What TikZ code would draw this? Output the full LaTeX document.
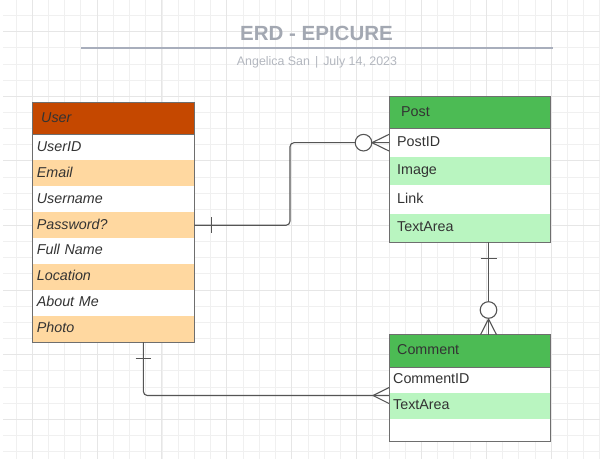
\documentclass[tikz,border=0pt]{standalone}
\usepackage{fontspec}
\setmainfont{Liberation Sans}
\definecolor{titlecol}{HTML}{A3A8B2}
\definecolor{subcol}{HTML}{B3B7BF}
\definecolor{rulecol}{HTML}{A8AEBC}
\definecolor{userhead}{HTML}{C54800}
\definecolor{orangerow}{HTML}{FFD8A0}
\definecolor{greenhead}{HTML}{4CBB54}
\definecolor{greenrow}{HTML}{B9F5C0}
\definecolor{txt}{HTML}{333333}
\definecolor{boxline}{HTML}{6E6E6E}
\definecolor{conncol}{HTML}{555555}
\definecolor{gridminor}{HTML}{F0F0F0}
\definecolor{gridmajor}{HTML}{E6E6E6}
\newcommand{\cellfont}{\fontsize{14.3}{16}\selectfont}
\tikzset{
  cell/.style={rectangle, anchor=north west, inner ysep=0pt, align=left,
    text height=10.5pt, text depth=3pt, font=\cellfont, text=txt},
  ucell/.style={cell, minimum width=161.7pt, text width=153pt, inner xsep=4.35pt,
    minimum height=25.93pt, font=\cellfont\itshape},
  uhead/.style={cell, minimum width=161.7pt, text width=144.3pt, inner xsep=8.7pt,
    minimum height=32pt, font=\cellfont\itshape, fill=userhead},
  pcell/.style={cell, minimum width=161.3pt, text width=145.3pt, inner xsep=8pt,
    minimum height=28.35pt},
  phead/.style={cell, minimum width=161.3pt, text width=137.3pt, inner xsep=12pt,
    minimum height=32.3pt, fill=greenhead},
  ccell/.style={cell, minimum width=161.3pt, text width=153.3pt, inner xsep=4pt,
    minimum height=26pt},
  chead/.style={cell, minimum width=161.3pt, text width=145.3pt, inner xsep=8pt,
    minimum height=32.3pt, fill=greenhead},
  outline/.style={draw=boxline, line width=1pt},
  conn/.style={draw=conncol, line width=1.1pt},
  gminor/.style={draw=gridminor, line width=0.9pt},
  gmajor/.style={draw=gridmajor, line width=1pt}
}
\begin{document}
\begin{tikzpicture}[x=1pt,y=-1pt]
\useasboundingbox (0,0) rectangle (600,467);
\fill[white] (0,0) rectangle (600,467);
% grid
\foreach \k in {0,...,36}{\pgfmathsetmacro\xx{16+16.22*\k}\draw[gminor] (\xx,0) -- (\xx,459);}
\foreach \k in {0,...,27}{\pgfmathsetmacro\yy{15.5+16.15*\k}\draw[gminor] (3,\yy) -- (600,\yy);}
\foreach \k in {1,5,...,33}{\pgfmathsetmacro\xx{16+16.22*\k}\draw[gmajor] (\xx,0) -- (\xx,459);}
\foreach \k in {1,5,...,25}{\pgfmathsetmacro\yy{15.5+16.15*\k}\draw[gmajor] (3,\yy) -- (600,\yy);}

% title
\node[anchor=base, inner sep=0pt, font=\fontsize{20.5}{24}\selectfont\bfseries, text=titlecol] (title) at (316.5,40) {ERD - EPICURE};
\coordinate (rl) at (81,47.7);
\coordinate (rr) at (553,47.7);
\draw[draw=rulecol, line width=1.8pt] (rl) -- (rr);
\node[anchor=base, inner sep=0pt, font=\fontsize{12.4}{14}\selectfont, text=subcol] (sub) at (317,65) {Angelica San\hspace{5pt}|\hspace{5pt}July 14, 2023};

% User entity
\node[uhead] (uh) at (32.3,102.3) {User};
\node[ucell, fill=white]     (u1) at (32.3,134.3) {UserID};
\node[ucell, fill=orangerow] (u2) at (32.3,160.23) {Email};
\node[ucell, fill=white]     (u3) at (32.3,186.16) {Username};
\node[ucell, fill=orangerow] (u4) at (32.3,212.09) {Password?};
\node[ucell, fill=white]     (u5) at (32.3,238.02) {Full Name};
\node[ucell, fill=orangerow] (u6) at (32.3,263.95) {Location};
\node[ucell, fill=white]     (u7) at (32.3,289.88) {About Me};
\node[ucell, fill=orangerow] (u8) at (32.3,315.81) {Photo};
\draw[outline] (uh.south west) -- (uh.south east);
\draw[outline] (uh.north west) rectangle (u8.south east);

% Post entity
\node[phead] (ph) at (389,96) {Post};
\node[pcell, fill=white]    (p1) at (389,128.3) {PostID};
\node[pcell, fill=greenrow] (p2) at (389,156.65) {Image};
\node[pcell, fill=white]    (p3) at (389,185) {Link};
\node[pcell, fill=greenrow] (p4) at (389,213.35) {TextArea};
\draw[outline] (ph.south west) -- (ph.south east);
\draw[outline] (ph.north west) rectangle (p4.south east);

% Comment entity
\node[chead] (ch) at (389,334.7) {Comment};
\node[ccell, fill=white]    (c1) at (389,367) {CommentID};
\node[ccell, fill=greenrow] (c2) at (389,393) {TextArea};
\node[ccell, fill=white, minimum height=22pt] (c3) at (389,419) {};
\draw[outline] (ch.south west) -- (ch.south east);
\draw[outline] (ch.north west) rectangle (c3.south east);

% User -- Post (one to zero-or-many)
\draw[conn, rounded corners=4pt] (u4.east) -| ([xshift=-99pt]p1.west) -- (p1.west);
\draw[conn] ([xshift=16.7pt,yshift=7.8pt]u4.east) -- ([xshift=16.7pt,yshift=-7.8pt]u4.east);
\draw[conn, fill=white] ([xshift=-25.5pt]p1.west) circle[radius=8.3pt];
\draw[conn] ([yshift=8.3pt]p1.west) -- ([xshift=-17pt]p1.west) -- ([yshift=-8.3pt]p1.west);

% Post -- Comment (one to zero-or-many)
\draw[conn] ([xshift=18.65pt]p4.south) -- ([xshift=18.65pt]ch.north);
\draw[conn] ([xshift=10.65pt,yshift=-16.6pt]p4.south) -- ([xshift=26.65pt,yshift=-16.6pt]p4.south);
\draw[conn, fill=white] ([xshift=18.65pt,yshift=24.7pt]ch.north) circle[radius=8.3pt];
\draw[conn] ([xshift=10.65pt]ch.north) -- ([xshift=18.65pt,yshift=15.7pt]ch.north) -- ([xshift=26.65pt]ch.north);

% User -- Comment (one to many)
\draw[conn, rounded corners=4pt] ([xshift=30pt]u8.south) |- ([yshift=-2.5pt]c2.north west);
\draw[conn] ([xshift=22.3pt,yshift=-16.6pt]u8.south) -- ([xshift=37.7pt,yshift=-16.6pt]u8.south);
\draw[conn] ([yshift=5.5pt]c2.north west) -- ([xshift=-16pt,yshift=-2.5pt]c2.north west) -- ([yshift=-10.5pt]c2.north west);
\end{tikzpicture}
\end{document}
